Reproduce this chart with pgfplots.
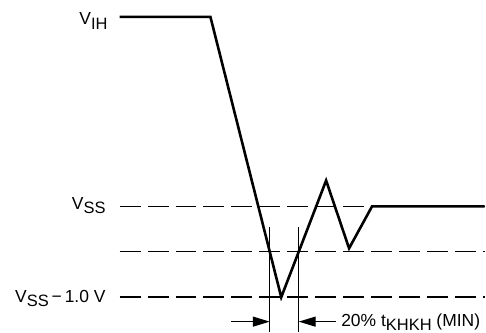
\documentclass[border=0pt]{standalone}
\usepackage{fontspec}
\setmainfont{Liberation Sans}
\usepackage{pgfplots}
\pgfplotsset{compat=1.18}
\usetikzlibrary{arrows.meta}
\newcommand{\sub}[1]{\raisebox{-4.5pt}{\fontsize{16.5}{17}\selectfont #1}}
\newcommand{\lf}{\fontsize{17.5}{19}\selectfont}
\begin{document}
\begin{tikzpicture}
\begin{axis}[
  width=486pt, height=333pt, scale only axis,
  xmin=0, xmax=486, ymin=0, ymax=333, y dir=reverse,
  hide axis, clip=false,
]
\path (axis cs:0,0) rectangle (axis cs:486,333);
% dashed reference levels
\addplot[black, line width=1.6pt, dash pattern=on 21pt off 7pt] coordinates {(120,207) (486,207)};
\addplot[black, line width=1.6pt, dash pattern=on 21pt off 7pt] coordinates {(120,252) (486,252)};
\addplot[black, line width=1.6pt, dash pattern=on 21pt off 7pt] coordinates {(120,298) (486,298)};
% waveform
\addplot[black, line width=2.6pt, line join=miter] coordinates {
 (120,17) (211,17) (282,298) (327,181) (350,249) (373,207) (486,207)};
% vertical markers
\addplot[black, line width=1.2pt] coordinates {(270.5,228) (270.5,333)};
\addplot[black, line width=1.2pt] coordinates {(299.5,228) (299.5,333)};
% arrows
\addplot[black, line width=1.2pt, -{Triangle[length=17pt,width=10pt]}] coordinates {(232,322.5) (270.5,322.5)};
\addplot[black, line width=1.2pt, -{Triangle[length=17pt,width=10pt]}] coordinates {(337,322.5) (299.5,322.5)};
% labels
\node[inner sep=0pt, anchor=base east] at (axis cs:108,25) {\lf V\sub{IH}};
\node[inner sep=0pt, anchor=base east] at (axis cs:106,210) {\lf V\sub{SS}};
\node[inner sep=0pt, anchor=base east] at (axis cs:106,303) {\lf V\sub{SS}\,−\,1.0 V};
\node[inner sep=0pt, anchor=base west] at (axis cs:342,327) {\lf 20\% t\sub{KHKH} (MIN)};
\end{axis}
\end{tikzpicture}
\end{document}
